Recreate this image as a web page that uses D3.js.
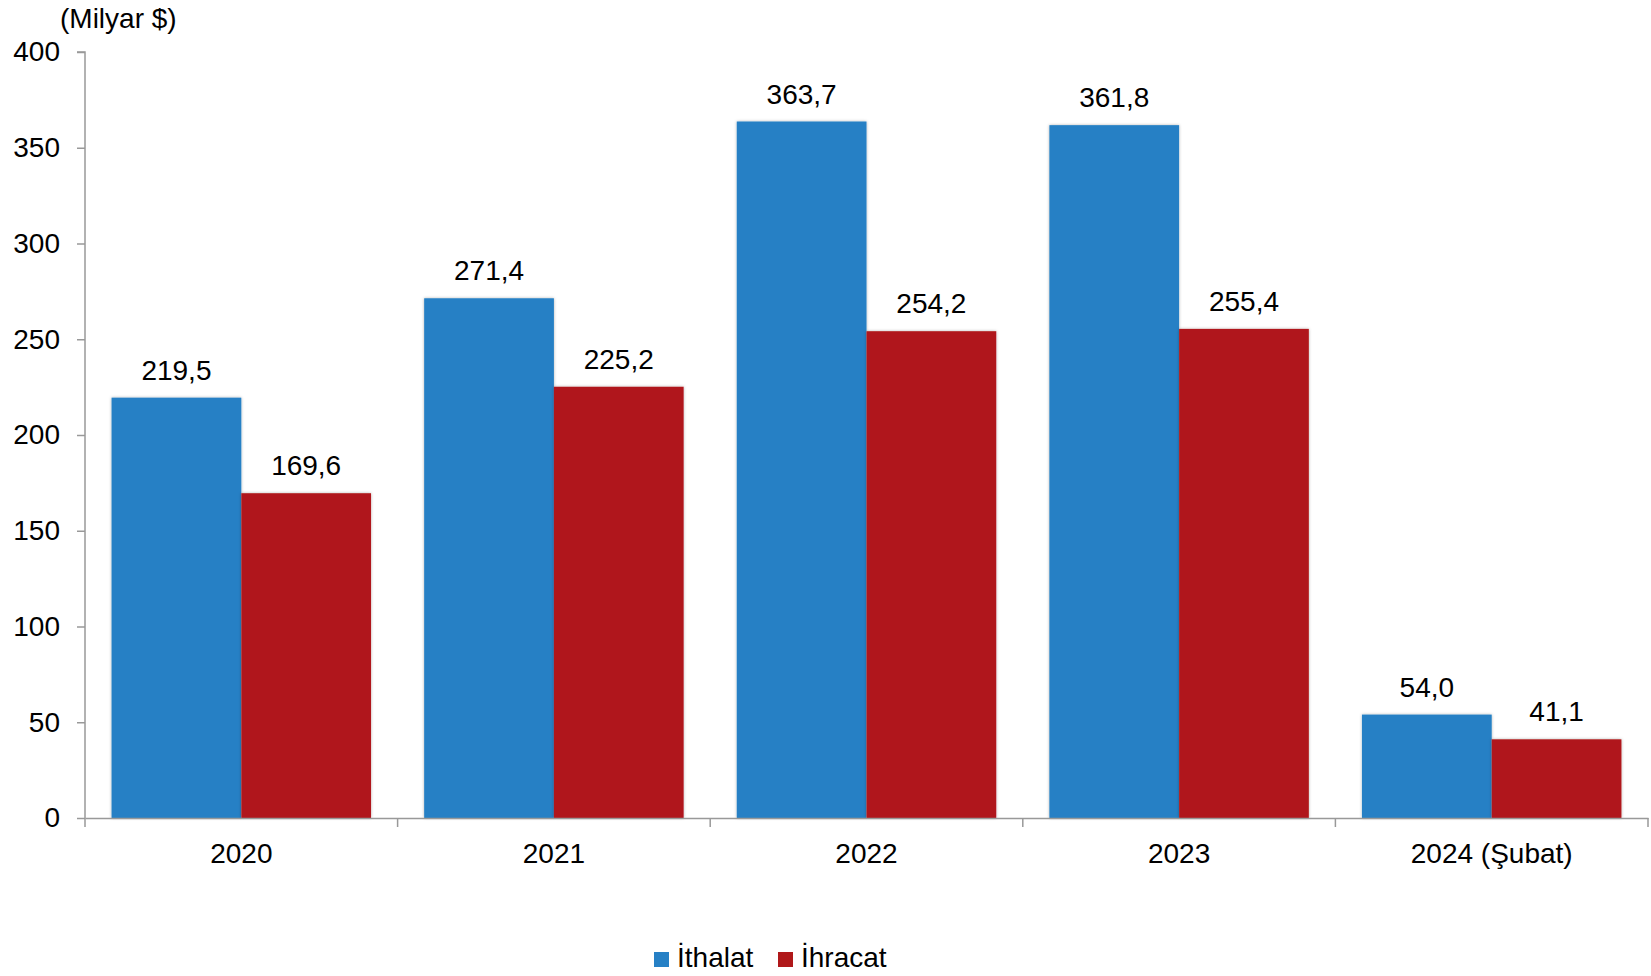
<!DOCTYPE html>
<html>
<head>
<meta charset="utf-8">
<script src="https://cdn.jsdelivr.net/npm/d3@7"></script>
<style>
  html, body { margin: 0; padding: 0; background: #fff; }
  svg { display: block; font-family: "Liberation Sans", Arial, sans-serif; }
</style>
</head>
<body>
<svg id="chart" width="1651" height="976"></svg>
<script>
const categories = ["2020", "2021", "2022", "2023", "2024 (Şubat)"];
const seriesNames = ["İthalat", "İhracat"];
const ithalat = [219.5, 271.4, 363.7, 361.8, 54.0];
const ihracat = [169.6, 225.2, 254.2, 255.4, 41.1];
const yTicks = [0, 50, 100, 150, 200, 250, 300, 350, 400];
const colors = ["#2680C5", "#B0181A"];
const unitLabel = "(Milyar $)";

(function () {
const svg = d3.select("#chart");
const fontSize = 28;
const mLeft = 85, mRight = 1648, mTop = 52, mBottom = 818;

const defs = svg.append("defs");
const f = defs.append("filter").attr("id", "shadow")
  .attr("x", "-10%").attr("y", "-10%").attr("width", "120%").attr("height", "120%");
f.append("feDropShadow").attr("dx", 0).attr("dy", 0).attr("stdDeviation", 1.5)
  .attr("flood-color", "#000").attr("flood-opacity", 0.3);

const x0 = d3.scaleBand().domain(categories).range([mLeft, mRight]).padding(0);
const inset = x0.bandwidth() * 0.085;
const x1 = d3.scaleBand().domain(seriesNames).range([inset, x0.bandwidth() - inset]).padding(0);
const y = d3.scaleLinear().domain([0, 400]).range([mBottom, mTop]);

const data = categories.map((c, i) => ({
  cat: c,
  vals: [{ s: seriesNames[0], v: ithalat[i] }, { s: seriesNames[1], v: ihracat[i] }]
}));

// Bars
const groups = svg.append("g").selectAll("g").data(data).join("g")
  .attr("transform", d => `translate(${x0(d.cat)},0)`);
groups.selectAll("rect").data(d => d.vals).join("rect")
  .attr("x", d => x1(d.s))
  .attr("y", d => y(d.v))
  .attr("width", x1.bandwidth())
  .attr("height", d => y(0) - y(d.v))
  .attr("fill", (d, i) => colors[i])
  .attr("filter", "url(#shadow)");

// Value labels
groups.selectAll("text").data(d => d.vals).join("text")
  .attr("x", d => x1(d.s) + x1.bandwidth() / 2)
  .attr("y", d => y(d.v) - 18)
  .attr("text-anchor", "middle")
  .attr("font-size", fontSize)
  .attr("fill", "#000")
  .text(d => d3.format(".1f")(d.v).replace(".", ","));

// Y axis
const yAxis = svg.append("g").attr("transform", `translate(${mLeft},0)`)
  .call(d3.axisLeft(y).tickValues(yTicks).tickSize(8).tickPadding(17).tickFormat(d3.format("d")));
yAxis.select(".domain").attr("stroke", "#999").attr("stroke-width", 1.5).attr("d", `M-8,${mTop}H0V${mBottom}`);
yAxis.selectAll(".tick line").attr("stroke", "#999").attr("stroke-width", 1.5);
yAxis.selectAll(".tick text").attr("font-size", fontSize).attr("fill", "#000")
  .attr("font-family", "Liberation Sans, Arial, sans-serif");

// X axis
const xAxis = svg.append("g").attr("transform", `translate(0,${mBottom})`)
  .call(d3.axisBottom(x0).tickSize(0).tickPadding(25));
xAxis.select(".domain").attr("stroke", "#999").attr("stroke-width", 1.5);
xAxis.selectAll(".tick text").attr("font-size", fontSize).attr("fill", "#000")
  .attr("font-family", "Liberation Sans, Arial, sans-serif");
const boundaries = categories.map(c => x0(c)).concat([x0(categories[categories.length - 1]) + x0.bandwidth()]);
xAxis.selectAll("line.boundary").data(boundaries).join("line")
  .attr("class", "boundary")
  .attr("x1", d => d).attr("x2", d => d)
  .attr("y1", 0).attr("y2", 9)
  .attr("stroke", "#999").attr("stroke-width", 1.5);

// Unit label
svg.append("text").attr("x", 60).attr("y", 28)
  .attr("font-size", fontSize).attr("fill", "#000").text(unitLabel);

// Legend
const legendX = [654, 778];
const legend = svg.append("g").selectAll("g").data(seriesNames).join("g")
  .attr("transform", (d, i) => `translate(${legendX[i]},952)`);
legend.append("rect").attr("width", 15).attr("height", 15).attr("fill", (d, i) => colors[i]);
legend.append("text").attr("x", 23).attr("y", 15)
  .attr("font-size", fontSize).attr("fill", "#000").text(d => d);
})();
</script>
</body>
</html>
